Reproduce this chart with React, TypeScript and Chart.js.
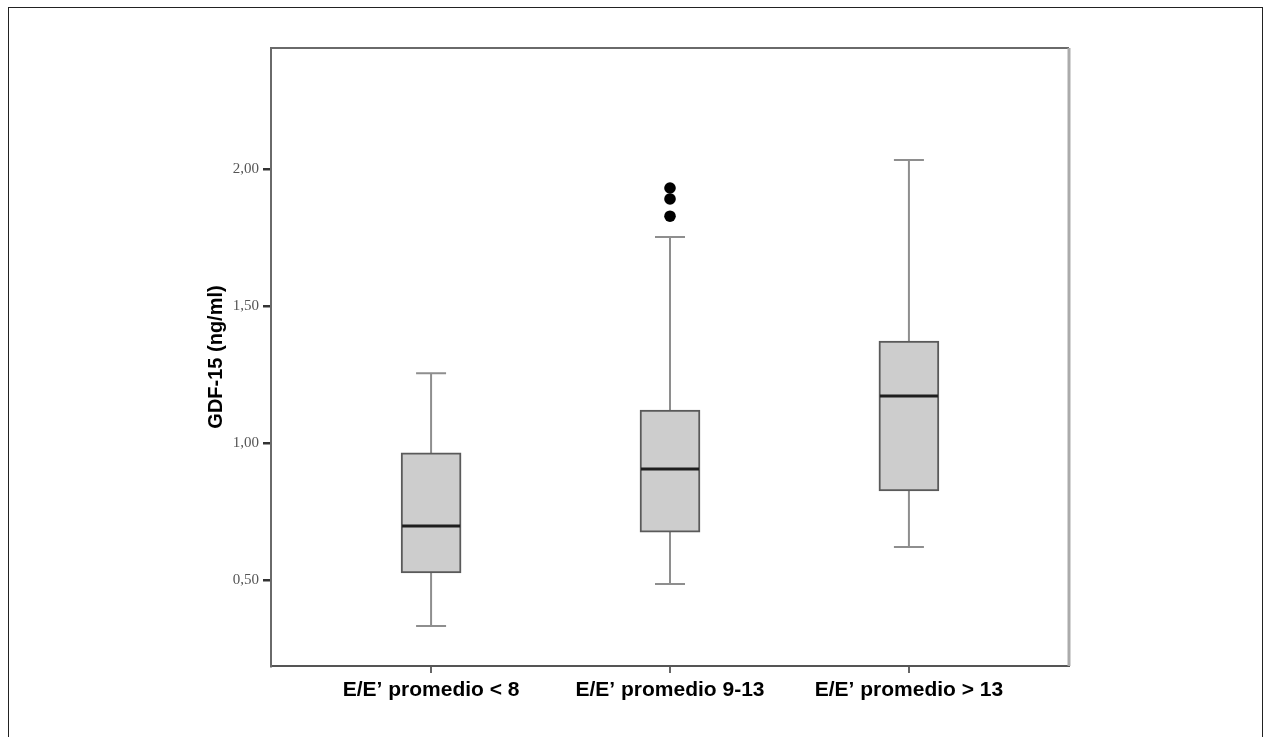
import React, { useEffect, useRef } from "react";
import { Chart, registerables } from "chart.js";

Chart.register(...registerables);

// ---- data ----
const categories = ["E/E\u2019 promedio < 8", "E/E\u2019 promedio 9-13", "E/E\u2019 promedio > 13"];
const positions = [1, 2, 3];
const whiskerLow = [0.332, 0.485, 0.62];
const q1 = [0.526, 0.675, 0.825];
const median = [0.697, 0.905, 1.172];
const q3 = [0.964, 1.12, 1.372];
const whiskerHigh = [1.255, 1.752, 2.033];
const outlierX = [2, 2, 2];
const outlierY = [1.931, 1.891, 1.828];
const yTicks = [0.5, 1.0, 1.5, 2.0];

const boxPlugin = {
  id: "boxplotExtras",
  beforeDatasetsDraw(chart: any) {
    const { ctx, scales } = chart;
    const x = scales.x;
    const y = scales.y;
    ctx.save();
    ctx.strokeStyle = "#8e8e8e";
    ctx.lineWidth = 2;
    positions.forEach((p, i) => {
      const px = x.getPixelForValue(p);
      const yq1 = y.getPixelForValue(q1[i]);
      const yq3 = y.getPixelForValue(q3[i]);
      const ylo = y.getPixelForValue(whiskerLow[i]);
      const yhi = y.getPixelForValue(whiskerHigh[i]);
      ctx.beginPath();
      ctx.moveTo(px, yq3);
      ctx.lineTo(px, yhi);
      ctx.moveTo(px, yq1);
      ctx.lineTo(px, ylo);
      ctx.moveTo(px - 15, yhi);
      ctx.lineTo(px + 15, yhi);
      ctx.moveTo(px - 15, ylo);
      ctx.lineTo(px + 15, ylo);
      ctx.stroke();
    });
    ctx.restore();
  },
  afterDatasetsDraw(chart: any) {
    const { ctx, scales, chartArea } = chart;
    const x = scales.x;
    const y = scales.y;
    ctx.save();
    ctx.strokeStyle = "#1e1e1e";
    ctx.lineWidth = 3;
    positions.forEach((p, i) => {
      const px = x.getPixelForValue(p);
      const ym = y.getPixelForValue(median[i]);
      ctx.beginPath();
      ctx.moveTo(px - 29, ym);
      ctx.lineTo(px + 29, ym);
      ctx.stroke();
    });
    // frame: top and right
    ctx.strokeStyle = "#6a6a6a";
    ctx.lineWidth = 2;
    ctx.beginPath();
    ctx.moveTo(chartArea.left, chartArea.top);
    ctx.lineTo(chartArea.right, chartArea.top);
    ctx.stroke();
    ctx.strokeStyle = "#ababab";
    ctx.lineWidth = 3;
    ctx.beginPath();
    ctx.moveTo(chartArea.right, chartArea.top);
    ctx.lineTo(chartArea.right, chartArea.bottom);
    ctx.stroke();
    ctx.restore();
  },
};

export default function App() {
  const ref = useRef<HTMLCanvasElement | null>(null);

  useEffect(() => {
    if (!ref.current) return;
    const chart = new Chart(ref.current, {
      type: "bar",
      data: {
        datasets: [
          {
            type: "bar",
            data: positions.map((p, i) => ({ x: p, y: [q1[i], q3[i]] })) as any,
            backgroundColor: "#cdcdcd",
            borderColor: "#5a5a5a",
            borderWidth: 2,
            borderSkipped: false,
            barThickness: 60,
          } as any,
          {
            type: "scatter",
            data: outlierX.map((xv, i) => ({ x: xv, y: outlierY[i] })),
            backgroundColor: "#000000",
            borderColor: "#000000",
            pointRadius: 5.8,
            pointBorderWidth: 0,
          } as any,
        ],
      },
      plugins: [boxPlugin],
      options: {
        responsive: false,
        animation: false,
        events: [],
        layout: { padding: { left: 200, top: 48, right: 200, bottom: 0 } },
        plugins: { legend: { display: false }, tooltip: { enabled: false } },
        scales: {
          x: {
            type: "linear",
            min: 0.33,
            max: 3.67,
            offset: false,
            afterFit: (s: any) => {
              s.height = 71;
            },
            afterBuildTicks: (s: any) => {
              s.ticks = positions.map((v) => ({ value: v }));
            },
            border: { display: true, color: "#555555", width: 2 },
            grid: {
              display: true,
              offset: false,
              drawOnChartArea: false,
              drawTicks: true,
              tickLength: 7,
              color: "#666666",
              lineWidth: 2,
            },
            ticks: {
              autoSkip: false,
              maxRotation: 0,
              padding: 5,
              color: "#000000",
              font: { family: "Liberation Sans, Arial, sans-serif", size: 21, weight: "bold" },
              callback: (v: any) => categories[positions.indexOf(Number(v))] ?? "",
            },
          },
          y: {
            type: "linear",
            min: 0.186,
            max: 2.442,
            afterFit: (s: any) => {
              s.width = 71;
            },
            afterBuildTicks: (s: any) => {
              s.ticks = yTicks.map((v) => ({ value: v }));
            },
            border: { display: true, color: "#6a6a6a", width: 2 },
            grid: {
              display: true,
              drawOnChartArea: false,
              drawTicks: true,
              tickLength: 8,
              color: "#333333",
              lineWidth: 2.5,
            },
            ticks: {
              padding: 4,
              color: "#555555",
              font: { family: "Liberation Serif, 'Times New Roman', serif", size: 15 },
              callback: (v: any) => Number(v).toFixed(2).replace(".", ","),
            },
            title: {
              display: true,
              text: "GDF-15 (ng/ml)",
              color: "#000000",
              padding: { top: 4, bottom: 0 },
              font: { family: "Liberation Sans, Arial, sans-serif", size: 20, weight: "bold" },
            },
          },
        },
      } as any,
    });
    return () => chart.destroy();
  }, []);

  return (
    <div>
      <div
        style={{
          position: "fixed",
          left: 8,
          top: 7,
          width: 1255,
          height: 760,
          border: "1px solid #222",
          boxSizing: "border-box",
          background: "#fff",
        }}
      />
      <canvas
        ref={ref}
        width={1269}
        height={737}
        style={{ position: "fixed", left: 0, top: 0, width: 1269, height: 737 }}
      />
    </div>
  );
}
